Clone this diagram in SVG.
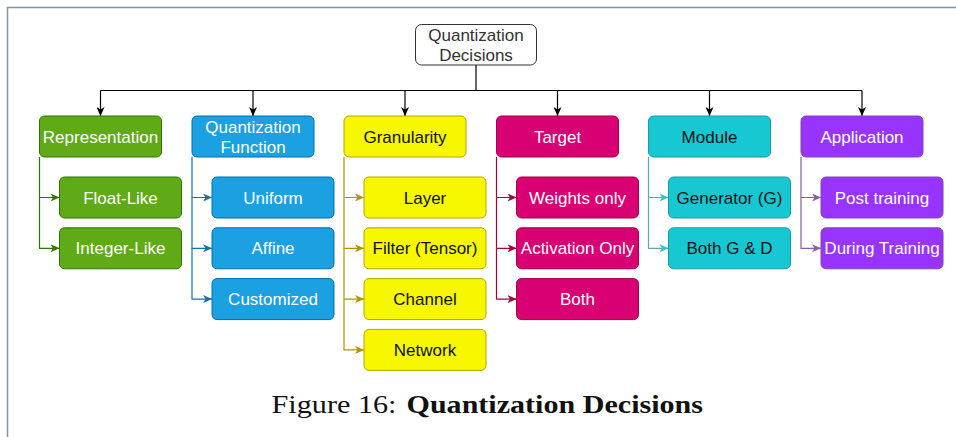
<svg xmlns="http://www.w3.org/2000/svg" width="956" height="437" viewBox="0 0 956 437">
<style>
  .t{font-family:"Liberation Sans",Arial,sans-serif;font-size:17px;text-anchor:middle}
  .w{fill:#ffffff}
  .k{fill:#111111}
  .frame{stroke:#7f93aa;stroke-width:1.5;fill:none}
  .c{fill:none;stroke-width:1.2}
  .g{fill:#60a917;stroke:#2d7600}
  .b{fill:#1ba1e2;stroke:#006eaf}
  .y{fill:#f7f700;stroke:#b8a400}
  .m{fill:#d80073;stroke:#a50040}
  .cy{fill:#17c8d3;stroke:#1a98a3}
  .p{fill:#9933ff;stroke:#7d4aa8}
  rect{stroke-width:1}
</style>
<defs>
  <marker id="aK" markerUnits="userSpaceOnUse" markerWidth="10" markerHeight="8" refX="9" refY="4" orient="auto"><path d="M0,0 L9,4 L0,8 L2.5,4 z" fill="#000"/></marker>
  <marker id="aG" markerUnits="userSpaceOnUse" markerWidth="10" markerHeight="8" refX="9" refY="4" orient="auto"><path d="M0,0 L9,4 L0,8 L2.5,4 z" fill="#2d7600"/></marker>
  <marker id="aB" markerUnits="userSpaceOnUse" markerWidth="10" markerHeight="8" refX="9" refY="4" orient="auto"><path d="M0,0 L9,4 L0,8 L2.5,4 z" fill="#1a6fa6"/></marker>
  <marker id="aY" markerUnits="userSpaceOnUse" markerWidth="10" markerHeight="8" refX="9" refY="4" orient="auto"><path d="M0,0 L9,4 L0,8 L2.5,4 z" fill="#b09500"/></marker>
  <marker id="aM" markerUnits="userSpaceOnUse" markerWidth="10" markerHeight="8" refX="9" refY="4" orient="auto"><path d="M0,0 L9,4 L0,8 L2.5,4 z" fill="#a50040"/></marker>
  <marker id="aC" markerUnits="userSpaceOnUse" markerWidth="10" markerHeight="8" refX="9" refY="4" orient="auto"><path d="M0,0 L9,4 L0,8 L2.5,4 z" fill="#33c0cc"/></marker>
  <marker id="aP" markerUnits="userSpaceOnUse" markerWidth="10" markerHeight="8" refX="9" refY="4" orient="auto"><path d="M0,0 L9,4 L0,8 L2.5,4 z" fill="#8a5ea8"/></marker>
</defs>

<path class="frame" d="M7.5,437 V7.5 H956"/>

<g id="connectors">
  <path class="c" stroke="#000" d="M476,65 V90.5 M100.5,90.5 H862"/>
  <path class="c" stroke="#000" marker-end="url(#aK)" d="M100.5,90.5 V116"/>
  <path class="c" stroke="#000" marker-end="url(#aK)" d="M253,90.5 V116"/>
  <path class="c" stroke="#000" marker-end="url(#aK)" d="M405,90.5 V116"/>
  <path class="c" stroke="#000" marker-end="url(#aK)" d="M557.5,90.5 V116"/>
  <path class="c" stroke="#000" marker-end="url(#aK)" d="M709.5,90.5 V116"/>
  <path class="c" stroke="#000" marker-end="url(#aK)" d="M862,90.5 V116"/>

  <path class="c" stroke="#2d7600" marker-end="url(#aG)" d="M39.5,157 V197.5 H59.5"/>
  <path class="c" stroke="#2d7600" marker-end="url(#aG)" d="M39.5,197.5 V248.3 H59.5"/>

  <path class="c" stroke="#1a6fa6" marker-end="url(#aB)" d="M192,157 V197.5 H212"/>
  <path class="c" stroke="#1a6fa6" marker-end="url(#aB)" d="M192,197.5 V248.3 H212"/>
  <path class="c" stroke="#1a6fa6" marker-end="url(#aB)" d="M192,248.3 V299.1 H212"/>

  <path class="c" stroke="#b09500" marker-end="url(#aY)" d="M344,157 V197.5 H364"/>
  <path class="c" stroke="#b09500" marker-end="url(#aY)" d="M344,197.5 V248.3 H364"/>
  <path class="c" stroke="#b09500" marker-end="url(#aY)" d="M344,248.3 V299.1 H364"/>
  <path class="c" stroke="#b09500" marker-end="url(#aY)" d="M344,299.1 V349.9 H364"/>

  <path class="c" stroke="#a50040" marker-end="url(#aM)" d="M496.5,157 V197.5 H516.5"/>
  <path class="c" stroke="#a50040" marker-end="url(#aM)" d="M496.5,197.5 V248.3 H516.5"/>
  <path class="c" stroke="#a50040" marker-end="url(#aM)" d="M496.5,248.3 V299.1 H516.5"/>

  <path class="c" stroke="#5aaab3" marker-end="url(#aC)" d="M648.5,157 V197.5 H668.5"/>
  <path class="c" stroke="#5aaab3" marker-end="url(#aC)" d="M648.5,197.5 V248.3 H668.5"/>

  <path class="c" stroke="#8a5ea8" marker-end="url(#aP)" d="M801,157 V197.5 H821"/>
  <path class="c" stroke="#8a5ea8" marker-end="url(#aP)" d="M801,197.5 V248.3 H821"/>
</g>

<g id="root">
  <rect x="415.5" y="24.5" width="121" height="40.5" rx="6" fill="#ffffff" stroke="#333333"/>
  <text class="t" fill="#333333" x="476" y="41">Quantization</text>
  <text class="t" fill="#333333" x="476" y="61">Decisions</text>
</g>

<g id="representation">
  <rect class="g" x="39.5" y="116" width="122" height="41" rx="5"/>
  <text class="t w" x="100.5" y="142.5">Representation</text>
</g>
<g id="float-like">
  <rect class="g" x="59.5" y="177" width="122" height="41" rx="5"/>
  <text class="t w" x="120.5" y="203.5">Float-Like</text>
</g>
<g id="integer-like">
  <rect class="g" x="59.5" y="227.8" width="122" height="41" rx="5"/>
  <text class="t w" x="120.5" y="254.3">Integer-Like</text>
</g>

<g id="quantization-function">
  <rect class="b" x="192" y="116" width="122" height="41" rx="5"/>
  <text class="t w" x="253" y="132.5">Quantization</text>
  <text class="t w" x="253" y="152.5">Function</text>
</g>
<g id="uniform">
  <rect class="b" x="212" y="177" width="122" height="41" rx="5"/>
  <text class="t w" x="273" y="203.5">Uniform</text>
</g>
<g id="affine">
  <rect class="b" x="212" y="227.8" width="122" height="41" rx="5"/>
  <text class="t w" x="273" y="254.3">Affine</text>
</g>
<g id="customized">
  <rect class="b" x="212" y="278.6" width="122" height="41" rx="5"/>
  <text class="t w" x="273" y="305.1">Customized</text>
</g>

<g id="granularity">
  <rect class="y" x="344" y="116" width="122" height="41" rx="5"/>
  <text class="t k" x="405" y="142.5">Granularity</text>
</g>
<g id="layer">
  <rect class="y" x="364" y="177" width="122" height="41" rx="5"/>
  <text class="t k" x="425" y="203.5">Layer</text>
</g>
<g id="filter">
  <rect class="y" x="364" y="227.8" width="122" height="41" rx="5"/>
  <text class="t k" x="425" y="254.3">Filter (Tensor)</text>
</g>
<g id="channel">
  <rect class="y" x="364" y="278.6" width="122" height="41" rx="5"/>
  <text class="t k" x="425" y="305.1">Channel</text>
</g>
<g id="network">
  <rect class="y" x="364" y="329.4" width="122" height="41" rx="5"/>
  <text class="t k" x="425" y="355.9">Network</text>
</g>

<g id="target">
  <rect class="m" x="496.5" y="116" width="122" height="41" rx="5"/>
  <text class="t w" x="557.5" y="142.5">Target</text>
</g>
<g id="weights-only">
  <rect class="m" x="516.5" y="177" width="122" height="41" rx="5"/>
  <text class="t w" x="577.5" y="203.5">Weights only</text>
</g>
<g id="activation-only">
  <rect class="m" x="516.5" y="227.8" width="122" height="41" rx="5"/>
  <text class="t w" x="577.5" y="254.3">Activation Only</text>
</g>
<g id="both">
  <rect class="m" x="516.5" y="278.6" width="122" height="41" rx="5"/>
  <text class="t w" x="577.5" y="305.1">Both</text>
</g>

<g id="module">
  <rect class="cy" x="648.5" y="116" width="122" height="41" rx="5"/>
  <text class="t k" x="709.5" y="142.5">Module</text>
</g>
<g id="generator">
  <rect class="cy" x="668.5" y="177" width="122" height="41" rx="5"/>
  <text class="t k" x="729.5" y="203.5">Generator (G)</text>
</g>
<g id="both-g-d">
  <rect class="cy" x="668.5" y="227.8" width="122" height="41" rx="5"/>
  <text class="t k" x="729.5" y="254.3">Both G &amp; D</text>
</g>

<g id="application">
  <rect class="p" x="801" y="116" width="122" height="41" rx="5"/>
  <text class="t w" x="862" y="142.5">Application</text>
</g>
<g id="post-training">
  <rect class="p" x="821" y="177" width="122" height="41" rx="5"/>
  <text class="t w" x="882" y="203.5">Post training</text>
</g>
<g id="during-training">
  <rect class="p" x="821" y="227.8" width="122" height="41" rx="5"/>
  <text class="t w" x="882" y="254.3">During Training</text>
</g>

<g id="caption" font-family="'Liberation Serif','Times New Roman',serif" font-size="25" fill="#111">
  <text x="271.5" y="412.5" textLength="125" lengthAdjust="spacingAndGlyphs">Figure 16:</text>
  <text x="406.5" y="412.5" font-weight="bold" textLength="296.5" lengthAdjust="spacingAndGlyphs">Quantization Decisions</text>
</g>
</svg>
